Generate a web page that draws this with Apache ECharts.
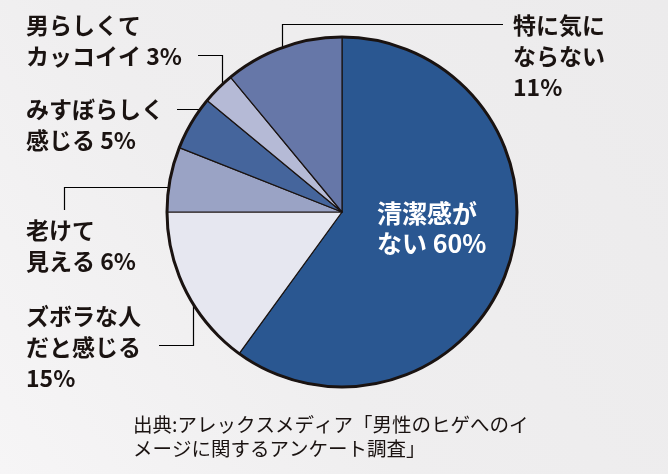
<!DOCTYPE html>
<html>
<head>
<meta charset="utf-8">
<script src="https://cdn.jsdelivr.net/npm/echarts@6/dist/echarts.min.js"></script>
<style>
html,body{margin:0;padding:0;}
#chart{width:668px;height:474px;}
</style>
</head>
<body>
<div id="chart"></div>
<script>
// Data (clockwise from 12 o'clock)
const categories = ['清潔感が\nない', 'ズボラな人\nだと感じる', '老けて\n見える', 'みすぼらしく\n感じる', '男らしくて\nカッコイイ', '特に気に\nならない'];
const values = [60, 15, 6, 5, 3, 11];
const labelTexts = ['清潔感が\nない 60%', 'ズボラな人\nだと感じる\n15%', '老けて\n見える 6%', 'みすぼらしく\n感じる 5%', '男らしくて\nカッコイイ 3%', '特に気に\nならない\n11%'];
const sourceText = '出典:アレックスメディア「男性のヒゲへのイ\nメージに関するアンケート調査」';

const colors = ['#2a5791', '#e6e7f0', '#9aa3c5', '#45659c', '#b5bad6', '#6677a8'];
const ink = '#1a1311';

// Label placement (layout only)
const labelPlace = [
  {x: 377, y: 228, pts: null},
  {x: 26, y: 347, pts: [[193.5, 278], [193.5, 345.5], [159, 345.5]]},
  {x: 26, y: 246, pts: [[182, 187.5], [64.5, 187.5], [64.5, 210]]},
  {x: 26, y: 125, pts: [[198.5, 137], [198.5, 109.5], [177, 109.5]]},
  {x: 26, y: 41,  pts: [[222.5, 102], [222.5, 55.5], [198, 55.5]]},
  {x: 513, y: 56, pts: [[282.5, 63], [282.5, 24.5], [503, 24.5]]}
];

const chart = echarts.init(document.getElementById('chart'), null, {renderer: 'canvas'});
const FONT = '"Noto Sans CJK JP", "Noto Sans", sans-serif';

const pieData = values.map((v, i) => ({
  name: categories[i],
  value: v,
  itemStyle: {color: colors[i]},
  label: i === 0
    ? {color: '#ffffff', fontSize: 25, lineHeight: 30}
    : {color: ink, fontSize: 23, lineHeight: 31},
  labelLine: {show: i !== 0}
}));

chart.setOption({
  backgroundColor: {
    type: 'linear', x: 1, y: 0, x2: 0, y2: 1,
    colorStops: [
      {offset: 0, color: '#ecebec'},
      {offset: 0.6, color: '#efeeef'},
      {offset: 1, color: '#f6f5f6'}
    ]
  },
  animation: false,
  textStyle: {fontFamily: FONT},
  graphic: [{
    type: 'text',
    left: 133,
    top: 413,
    style: {
      text: sourceText,
      fontFamily: FONT,
      fontSize: 19.5,
      lineHeight: 24,
      fill: ink
    }
  }],
  series: [
    {
      type: 'pie',
      center: [342, 212],
      radius: 175,
      startAngle: 90,
      clockwise: true,
      silent: true,
      itemStyle: {borderColor: ink, borderWidth: 1.2},
      label: {
        show: true,
        position: 'outside',
        fontFamily: FONT,
        fontWeight: 'bold',
        overflow: 'none',
        formatter: (p) => labelTexts[p.dataIndex]
      },
      labelLine: {show: true, smooth: false, lineStyle: {color: '#000000', width: 1.2, opacity: 1}},
      labelLayout: function (params) {
        const p = labelPlace[params.dataIndex];
        const r = {x: p.x, y: p.y, align: 'left', verticalAlign: 'middle'};
        if (p.pts) r.labelLinePoints = p.pts;
        return r;
      },
      data: pieData,
      z: 2
    },
    {
      type: 'pie',
      center: [342, 212],
      radius: 175,
      silent: true,
      label: {show: false},
      labelLine: {show: false},
      itemStyle: {color: 'rgba(0,0,0,0)', borderColor: ink, borderWidth: 3},
      data: [{name: 'outline', value: values.reduce((a, b) => a + b, 0)}],
      z: 3
    }
  ]
});
</script>
</body>
</html>
